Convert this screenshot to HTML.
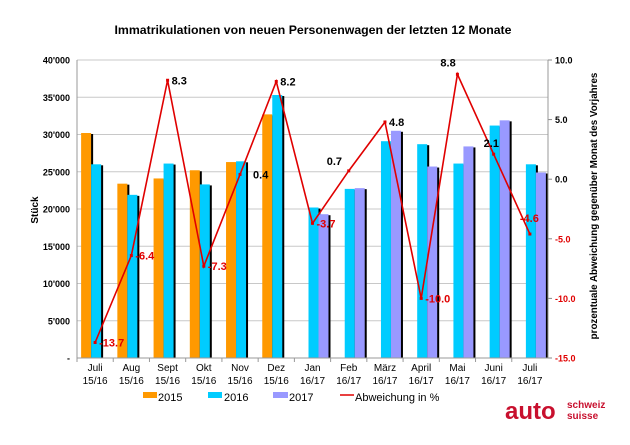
<!DOCTYPE html>
<html><head><meta charset="utf-8"><style>
body{margin:0;background:#fff;width:630px;height:445px;overflow:hidden}
svg{display:block;font-family:"Liberation Sans",Arial,sans-serif}
</style></head><body>
<svg id="c" width="630" height="445">
<text x="313" y="34" text-anchor="middle" font-size="12.3" font-weight="bold">Immatrikulationen von neuen Personenwagen der letzten 12 Monate</text>
<text transform="translate(38,210) rotate(-90)" text-anchor="middle" font-size="10" font-weight="bold">Stück</text>
<text transform="translate(597,206) rotate(-90)" text-anchor="middle" font-size="9.8" font-weight="bold">prozentuale Abweichung gegenüber Monat des Vorjahres</text>
<g id="grid"></g><g id="bars"></g><g id="axes"></g><g id="line"></g>
<g font-size="11">
<rect x="143" y="392" width="14" height="6" fill="#FF9900"/>
<text x="158" y="401">2015</text>
<rect x="208" y="392" width="14" height="6" fill="#00CCFF"/>
<text x="224" y="401">2016</text>
<rect x="273" y="392" width="15" height="6" fill="#9999FF"/>
<text x="289" y="401">2017</text>
<line x1="340" y1="395" x2="354" y2="395" stroke="#e00000" stroke-width="1.5"/>
<text x="355" y="401">Abweichung in %</text>
</g>
<g fill="#c8102e" font-weight="bold">
<text x="505" y="419" font-size="24">auto</text>
<text x="567" y="408" font-size="10">schweiz</text>
<text x="567" y="419" font-size="10">suisse</text>
</g>
</svg>
<script>
const months=["Juli","Aug","Sept","Okt","Nov","Dez","Jan","Feb","März","April","Mai","Juni","Juli"];
const periods=["15/16","15/16","15/16","15/16","15/16","15/16","16/17","16/17","16/17","16/17","16/17","16/17","16/17"];
const s2015=[30200,23400,24100,25200,26300,32700,null,null,null,null,null,null,null];
const s2016=[26000,21900,26100,23300,26400,35300,20200,22700,29100,28700,26100,31200,26000];
const s2017=[null,null,null,null,null,null,19300,22800,30500,25700,28400,31900,24900];
const pct=[-13.7,-6.4,8.3,-7.3,0.4,8.2,-3.7,0.7,4.8,-10.0,8.8,2.1,-4.6];
const leftTicks=[0,5000,10000,15000,20000,25000,30000,35000,40000];
const leftTickLabels=["-","5'000","10'000","15'000","20'000","25'000","30'000","35'000","40'000"];
const rightTicks=[-15,-10,-5,0,5,10];

const NS="http://www.w3.org/2000/svg";
const X0=77,X1=548,Y0=358,Y1=60;
const bw=(X1-X0)/months.length;
const y=v=>Y0-(v/40000)*(Y0-Y1);
const y2=v=>Y0-((v+15)/25)*(Y0-Y1);
const cx=i=>X0+bw*(i+0.5);
function el(p,t,a){const e=document.createElementNS(NS,t);for(const k in a)e.setAttribute(k,a[k]);p.appendChild(e);return e;}
const G=document.getElementById('grid'),B=document.getElementById('bars'),A=document.getElementById('axes'),L=document.getElementById('line');
leftTicks.forEach((t,i)=>{
  const l=el(G,'line',{x1:X0,x2:X1,y1:y(t),y2:y(t),stroke:'#c8c8c8','stroke-width':1});
  
  
  const tx=el(A,'text',{x:70,y:y(t)+3.5,'text-anchor':'end','font-size':9,'font-weight':'bold'});
  tx.textContent=leftTickLabels[i];
  
  
});
rightTicks.forEach(t=>{
  const tx=el(A,'text',{x:555,y:y2(t)+3.5,'font-size':9,'font-weight':'bold',fill:t<0?'#e00000':'#000'});
  tx.textContent=t.toFixed(1);
  
  
  el(A,'line',{x1:X1,x2:X1+4,y1:y2(t),y2:y2(t),stroke:'#888'});
});
let ax=el(A,'line',{x1:X0,x2:X0,y1:Y1,y2:Y0,stroke:'#999'});

ax=el(A,'line',{x1:X1,x2:X1,y1:Y1,y2:Y0,stroke:'#999'});

ax=el(A,'line',{x1:X0,x2:X1,y1:Y0,y2:Y0,stroke:'#999'});

months.forEach((m,i)=>{
  el(A,'line',{x1:X0+bw*i,x2:X0+bw*i,y1:Y0,y2:Y0+4,stroke:'#999'});
  const t1=el(A,'text',{x:cx(i),y:371,'text-anchor':'middle','font-size':10});
  t1.textContent=m;
  
  
  const t2=el(A,'text',{x:cx(i),y:384,'text-anchor':'middle','font-size':10});
  t2.textContent=periods[i];
  
  
});
const series=[[s2015,'#FF9900','bar-2015'],[s2016,'#00CCFF','bar-2016'],[s2017,'#9999FF','bar-2017']];
months.forEach((m,i)=>{
  const present=series.filter(s=>s[0][i]!=null);
  const start=present[0]===series[0]?0:1;
  present.forEach((s,k)=>{
    const v=s[0][i];const x=cx(i)-14+(start+k)*10;
    el(B,'rect',{x:x+2,y:y(v)+1,width:10,height:Y0-y(v)-1,fill:'#000'});
    const r=el(B,'rect',{x:x,y:y(v),width:10,height:Y0-y(v),fill:s[1]});
    
    
  });
});
const pts=pct.map((v,i)=>cx(i)+','+y2(v)).join(' ');
const pl=el(L,'polyline',{points:pts,fill:'none',stroke:'#e00000','stroke-width':1.6});


pct.forEach((v,i)=>{
  const c=el(L,'rect',{x:cx(i)-1.5,y:y2(v)-1.5,width:3,height:3,fill:'#e00000'});
  
  
  let lx=cx(i)+4,ly=y2(v)+4;
  if(i===4){lx=cx(i)+13;ly=y2(v)+4;}
  if(i===7){lx=cx(i)-22;ly=y2(v)-6;}
  if(i===10){lx=cx(i)-17;ly=y2(v)-8;}
  if(i===11){lx=cx(i)-10;ly=y2(v)-7;}
  if(i===12){lx=cx(i)-10;ly=y2(v)-12;}
  const t=el(L,'text',{x:lx,y:ly,'font-size':11,'font-weight':'bold',fill:v<0?'#e00000':'#000'});
  t.textContent=v.toFixed(1);
  
  
});
</script>
</body></html>
